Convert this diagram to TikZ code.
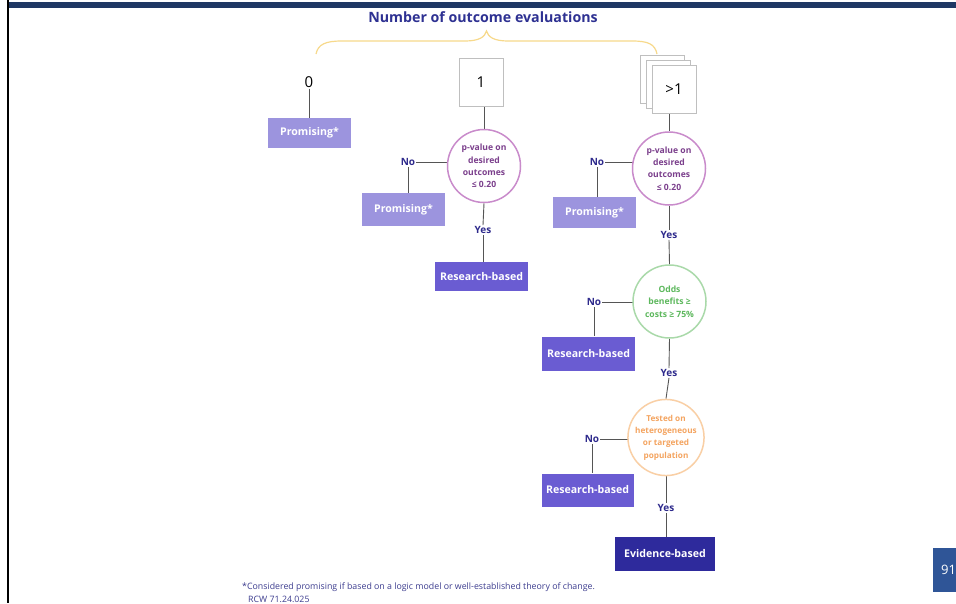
\documentclass[tikz,border=0pt]{standalone}
\usepackage{fontspec}
\setmainfont{Open Sans}
\usetikzlibrary{backgrounds}
\definecolor{navy}{HTML}{1F3864}
\definecolor{titlecol}{HTML}{2E3192}
\definecolor{promocol}{HTML}{9C94DE}
\definecolor{rescol}{HTML}{6A5CD2}
\definecolor{evcol}{HTML}{2E2A9C}
\definecolor{labcol}{HTML}{2E2A8C}
\definecolor{purpb}{HTML}{C98BCB}
\definecolor{purpt}{HTML}{7B3F8C}
\definecolor{greenb}{HTML}{A9D9A9}
\definecolor{greent}{HTML}{5DB85D}
\definecolor{orangeb}{HTML}{F9CFA5}
\definecolor{oranget}{HTML}{F4A460}
\definecolor{bracecol}{HTML}{F7D98B}
\definecolor{linecol}{HTML}{555555}
\definecolor{pagecol}{HTML}{2F5597}
\definecolor{footcol}{HTML}{3D3D8F}
\begin{document}
\begin{tikzpicture}[x=1pt,y=-1pt,
  outcome/.style={rectangle, inner sep=0pt, text=white, font=\bfseries\fontsize{10.6}{12}\selectfont},
  promo/.style={outcome, fill=promocol},
  research/.style={outcome, fill=rescol},
  evid/.style={outcome, fill=evcol},
  decision/.style={circle, draw=#1, line width=1.5pt, fill=white, minimum size=73pt, inner sep=0pt, align=center, font=\bfseries\fontsize{8.6}{12.3}\selectfont},
  lbl/.style={inner sep=1pt, text=labcol, font=\bfseries\fontsize{10}{11}\selectfont},
  numbox/.style={rectangle, draw=black!25, fill=white, line width=0.6pt, inner sep=0pt, minimum width=44pt, minimum height=48pt, font=\fontsize{15}{16}\selectfont},
  conn/.style={draw=linecol, line width=0.9pt},
]
\useasboundingbox (0,0) rectangle (956,603);
\begin{pgfonlayer}{background}
\fill[white] (0,0) rectangle (956,603);
\end{pgfonlayer}
% page frame
\fill[navy] (9,1.5) rectangle (956,7.5);
\draw[black, line width=2pt] (8,0) -- (8,603);
% page number
\begin{scope}
\clip (0,0) rectangle (956,603);
\fill[pagecol] (933,548) rectangle (962,592);
\node[anchor=west, text=white, inner sep=0pt, font=\fontsize{13}{15}\selectfont] (pg) at (941,570) {91};
\end{scope}
% title and brace
\node[text=titlecol, font=\bfseries\fontsize{14.2}{16}\selectfont] (title) at (483,17) {Number of outcome evaluations};
\draw[bracecol, line width=1.2pt] (316,54) .. controls (318,44) and (326,41) .. (342,41) -- (465,41) .. controls (479,41) and (485,37) .. (486.5,31) .. controls (488,37) and (494,41) .. (508,41) -- (632,41) .. controls (648,41) and (655,44) .. (657,54);

% column 0
\node[font=\fontsize{15}{16}\selectfont, inner sep=1pt] (n0) at (309,82) {0};
\node[promo, minimum width=83pt, minimum height=30pt] (p0) at (309.5,133) {Promising*};

% column 1
\node[numbox] (b1) at (481,82) {1};
\node[decision=purpb, text=purpt] (c1) at (484,166) {p-value on\\desired\\outcomes\\≤ 0.20};
\node[lbl] (no1) at (408,162) {No};
\node[promo, minimum width=83pt, minimum height=33pt] (pr1) at (403.5,209.5) {Promising*};
\node[lbl] (yes1) at (483,230) {Yes};
\node[research, minimum width=93pt, minimum height=29pt] (rb1) at (481.5,276.5) {Research-based};

% column 2
\draw[draw=black!25, fill=white, line width=0.6pt] (640,55) rectangle (684,103);
\draw[draw=black!25, fill=white, line width=0.6pt] (646,60) rectangle (690,108);
\node[numbox] (b2) at (674,89) {>1};
\node[decision=purpb, text=purpt] (c2) at (669,168.5) {p-value on\\desired\\outcomes\\≤ 0.20};
\node[lbl] (no2) at (597,162) {No};
\node[promo, minimum width=83pt, minimum height=31pt] (pr2) at (594.5,212.5) {Promising*};
\node[lbl] (yes2) at (669,235) {Yes};
\node[decision=greenb, text=greent] (c3) at (669.5,301.5) {Odds\\benefits ≥\\costs ≥ 75\%};
\node[lbl] (no3) at (594,302) {No};
\node[research, minimum width=93pt, minimum height=34pt] (rb2) at (588.5,353.5) {Research-based};
\node[lbl] (yes3) at (669,373) {Yes};
\node[decision=orangeb, text=oranget, font=\bfseries\fontsize{8.2}{12.3}\selectfont] (c4) at (666,437.5) {Tested on\\heterogeneous\\or targeted\\population};
\node[lbl] (no4) at (592,439) {No};
\node[research, minimum width=92pt, minimum height=33pt] (rb3) at (587.5,490) {Research-based};
\node[lbl] (yes4) at (666,508) {Yes};
\node[evid, minimum width=100pt, minimum height=34pt] (ev) at (665,554) {Evidence-based};

% connectors (behind the nodes)
\begin{pgfonlayer}{background}
\draw[conn] (n0.south) -- (n0.south |- p0.north);
\draw[conn] (c1.north) -- (c1.north |- b1.south);
\draw[conn] (no1.east) -- (c1.center |- no1.east);
\draw[conn] (no1.south) -- (no1.south |- pr1.north);
\draw[conn] (c1.south) -- (yes1.north);
\draw[conn] (yes1.south) -- (yes1.south |- rb1.north);

\draw[conn] (c2.north) -- (c2.north |- b2.south);
\draw[conn] (no2.east) -- (c2.center |- no2.east);
\draw[conn] (no2.south) -- (no2.south |- pr2.north);
\draw[conn] (c2.south) -- (yes2.north);
\draw[conn] (yes2.south) -- (c3.north);
\draw[conn] (no3.east) -- (c3.center |- no3.east);
\draw[conn] (no3.south) -- (no3.south |- rb2.north);
\draw[conn] (c3.south) -- (yes3.north);
\draw[conn] (yes3.south) -- (c4.north);
\draw[conn] (no4.east) -- (c4.center |- no4.east);
\draw[conn] (no4.south) -- (no4.south |- rb3.north);
\draw[conn] (c4.south) -- (yes4.north);
\draw[conn] (yes4.south) -- (yes4.south |- ev.north);
\end{pgfonlayer}

% footnote
\node[anchor=west, inner sep=0pt, text=footcol, font=\fontsize{8.8}{10}\selectfont] (fn1) at (242,587) {*Considered promising if based on a logic model or well-established theory of change.};
\node[anchor=west, inner sep=0pt, text=footcol, font=\fontsize{8.8}{10}\selectfont] (fn2) at (248,599) {RCW 71.24.025};
\end{tikzpicture}
\end{document}
